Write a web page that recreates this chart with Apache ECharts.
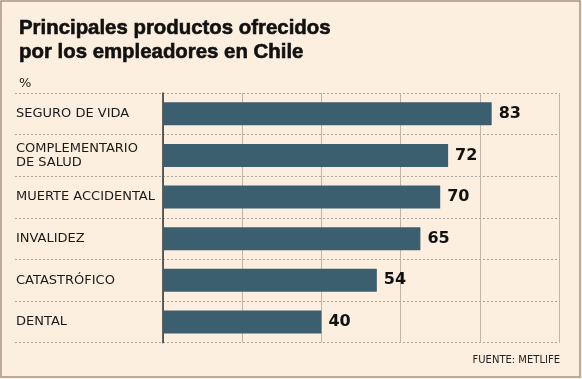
<!DOCTYPE html>
<html>
<head>
<meta charset="utf-8">
<script src="https://cdn.jsdelivr.net/npm/echarts@6/dist/echarts.min.js"></script>
<style>
html,body{margin:0;padding:0;background:#fcefdf;}
#chart{width:582px;height:379px;}
</style>
</head>
<body>
<div id="chart"></div>
<script>
var titleText = 'Principales productos ofrecidos\npor los empleadores en Chile';
var unitText = '%';
var sourceText = 'FUENTE: METLIFE';
var categories = ['SEGURO DE VIDA', 'COMPLEMENTARIO\nDE SALUD', 'MUERTE ACCIDENTAL', 'INVALIDEZ', 'CATASTRÓFICO', 'DENTAL'];
var values = [83, 72, 70, 65, 54, 40];
var axisMin = 0, axisMax = 100, axisStep = 20;

var chart = echarts.init(document.getElementById('chart'), null, {renderer: 'canvas'});
var gridTop = 93, gridBottom = 36.3, gridRight = 23;
chart.setOption({
  backgroundColor: '#fcefdf',
  animation: false,
  title: [
    {text: titleText, left: 14, top: 11,
     textStyle: {fontFamily: 'Liberation Sans', fontWeight: 'bold', fontSize: 20.4, lineHeight: 24, color: '#111',
                 textBorderColor: '#111', textBorderWidth: 0.6}},
    {text: unitText, left: 14, top: 72,
     textStyle: {fontFamily: 'DejaVu Sans', fontWeight: 'normal', fontSize: 13, color: '#222'}},
    {text: sourceText, right: 17, top: 350,
     textStyle: {fontFamily: 'DejaVu Sans', fontWeight: 'normal', fontSize: 10, color: '#222'}}
  ],
  graphic: [{
    type: 'rect', shape: {x: 1, y: 1, width: 579, height: 376},
    style: {fill: 'none', stroke: '#a89484', lineWidth: 1.5}, silent: true
  }],
  grid: [
    {left: 163, right: gridRight, top: gridTop, bottom: gridBottom},
    {left: 15, right: gridRight, top: gridTop, bottom: gridBottom}
  ],
  xAxis: [
    {type: 'value', gridIndex: 0, min: axisMin, max: axisMax, interval: axisStep,
     axisLine: {show: false}, axisTick: {show: false}, axisLabel: {show: false},
     splitLine: {show: true, lineStyle: {color: '#c2b5a5', width: 1, type: 'solid'}}},
    {type: 'value', gridIndex: 1, min: 0, max: 1, show: false}
  ],
  yAxis: [
    {type: 'category', gridIndex: 0, data: categories, inverse: true,
     axisLine: {show: true, lineStyle: {color: '#333', width: 1.5}},
     axisTick: {show: false},
     splitLine: {show: false},
     axisLabel: {align: 'left', margin: 147, fontFamily: 'DejaVu Sans', fontSize: 13, lineHeight: 14, color: '#1a1a1a'}},
    {type: 'category', gridIndex: 1, data: categories, inverse: true,
     axisLine: {show: false}, axisTick: {show: false}, axisLabel: {show: false},
     splitLine: {show: true, lineStyle: {color: '#a9a49c', width: 1, type: [2, 2]}}}
  ],
  series: [{
    type: 'bar', xAxisIndex: 0, yAxisIndex: 0, data: values, barWidth: 23,
    itemStyle: {color: '#3b5f6e'},
    label: {show: true, position: 'right', distance: 7, fontFamily: 'DejaVu Sans', fontWeight: 'bold', fontSize: 16, color: '#111'},
    z: 5
  }]
});
</script>
</body>
</html>
